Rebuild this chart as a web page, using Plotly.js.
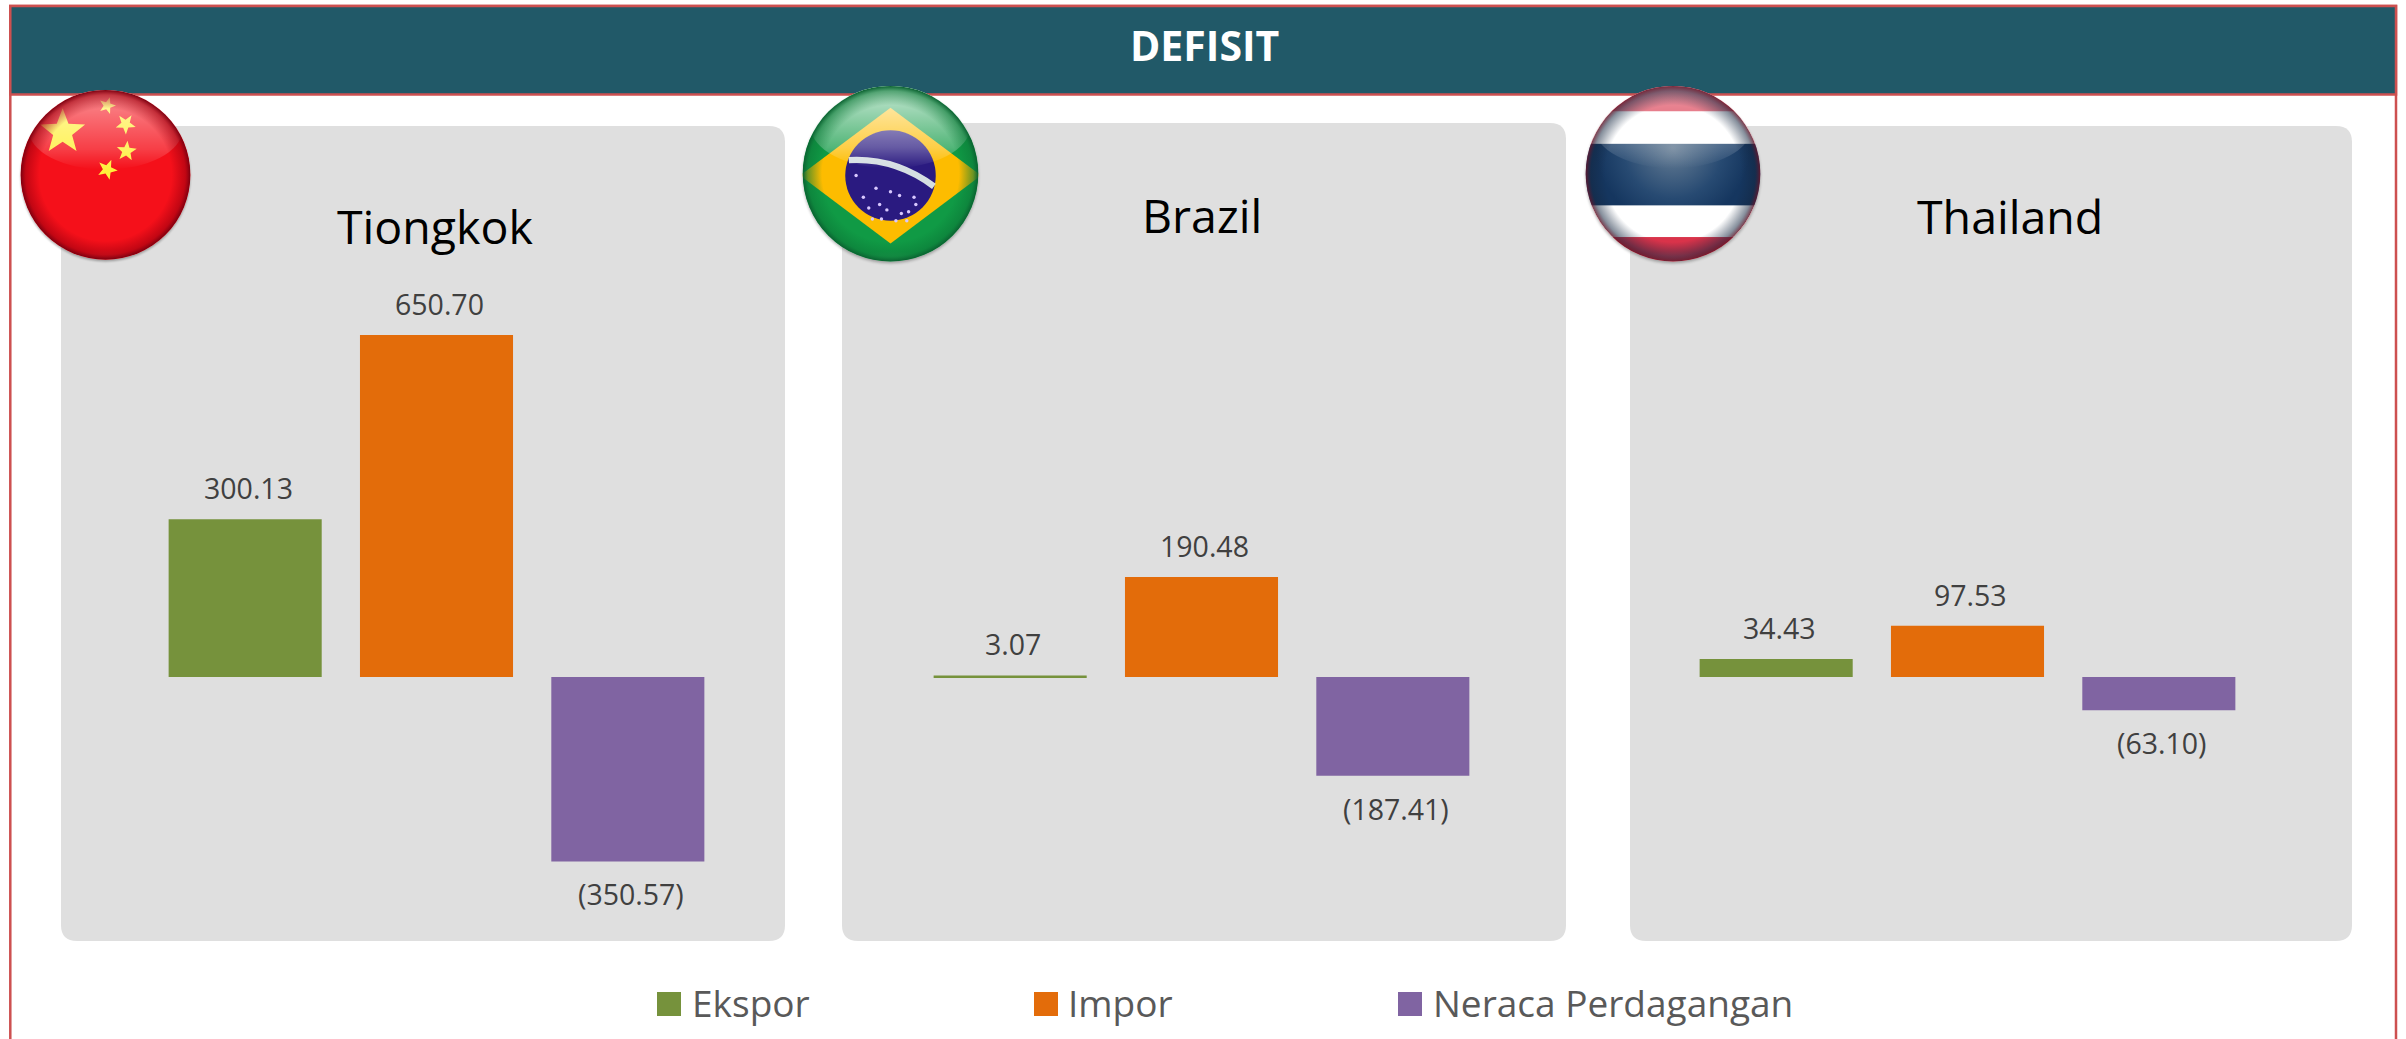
<!DOCTYPE html>
<html><head><meta charset="utf-8">
<script src="https://cdn.plot.ly/plotly-3.0.1.min.js"></script>
<style>html,body{margin:0;padding:0;background:#fff;overflow:hidden}</style>
</head><body><div id="chart" style="width:2406px;height:1039px"></div>
<script>
const pageTitle = 'DEFISIT';
const countries = ['Tiongkok', 'Brazil', 'Thailand'];
const seriesNames = ['Ekspor', 'Impor', 'Neraca Perdagangan'];
const seriesColors = ['#76923c', '#e36c0a', '#8064a2'];
const tiongkokValues = [300.13, 650.70, -350.57];
const brazilValues = [3.07, 190.48, -187.41];
const thailandValues = [34.43, 97.53, -63.10];
const allValues = [tiongkokValues, brazilValues, thailandValues];

const W = 2406, H = 1039;
const px = x => x / W, py = y => 1 - y / H;
const fontFam = '"Open Sans", sans-serif';
const plotBoxes = [[149.5, 723.5], [914.5, 1488.5], [1680.5, 2254.5]];
const cards = [[61, 126, 785, 941], [842, 123, 1566, 941], [1630, 126, 2352, 941]];
const titleCentres = [[435, 226], [1202, 215], [2010, 216]];
const yRange = [-500, 700], yTop = 309, yBottom = 940;
const fmt = v => v < 0 ? '(' + Math.abs(v).toFixed(2) + ')' : v.toFixed(2);

function roundRect(c, r) {
  const [x0, y0, x1, y1] = c;
  return `M${px(x0 + r)},${py(y0)}L${px(x1 - r)},${py(y0)}Q${px(x1)},${py(y0)} ${px(x1)},${py(y0 + r)}` +
    `L${px(x1)},${py(y1 - r)}Q${px(x1)},${py(y1)} ${px(x1 - r)},${py(y1)}L${px(x0 + r)},${py(y1)}` +
    `Q${px(x0)},${py(y1)} ${px(x0)},${py(y1 - r)}L${px(x0)},${py(y0 + r)}Q${px(x0)},${py(y0)} ${px(x0 + r)},${py(y0)}Z`;
}
function rectShape(x0, y0, x1, y1, fill, lineColor, lineW) {
  return {type: 'rect', xref: 'paper', yref: 'paper', x0: px(x0), x1: px(x1), y0: py(y0), y1: py(y1),
    fillcolor: fill, line: {color: lineColor || fill, width: lineW === undefined ? 0 : lineW}, layer: 'below'};
}

const traces = [], shapes = [], annotations = [], layout = {};

// frame and header
shapes.push(rectShape(10.3, 6, 2396, 1060, '#ffffff', '#cd5050', 2.5));
shapes.push(rectShape(10.3, 6, 2396, 94.5, '#215968', '#cd5050', 2.5));
cards.forEach(c => shapes.push({type: 'path', xref: 'paper', yref: 'paper', path: roundRect(c, 16),
  fillcolor: '#dfdfdf', line: {width: 0}, layer: 'below'}));

annotations.push({xref: 'paper', yref: 'paper', x: px(1204), y: py(45), text: '<b>' + pageTitle + '</b>', showarrow: false,
  font: {family: fontFam, size: 41, color: '#ffffff'}, xanchor: 'center', yanchor: 'middle'});

allValues.forEach((vals, i) => {
  const s = i === 0 ? '' : String(i + 1);
  traces.push({type: 'bar', x: seriesNames, y: vals, width: 0.8, xaxis: 'x' + s, yaxis: 'y' + s,
    marker: {color: seriesColors}, showlegend: false, hoverinfo: 'x+y'});
  layout['xaxis' + s] = {domain: [px(plotBoxes[i][0]), px(plotBoxes[i][1])], range: [-0.5, 2.5], type: 'category',
    visible: false, anchor: 'y' + s, fixedrange: true};
  layout['yaxis' + s] = {domain: [py(yBottom), py(yTop)], range: yRange, visible: false, anchor: 'x' + s, fixedrange: true};
  annotations.push({xref: 'paper', yref: 'paper', x: px(titleCentres[i][0]), y: py(titleCentres[i][1]), text: countries[i],
    showarrow: false, font: {family: fontFam, size: 46.5, color: '#000000'}, xanchor: 'center', yanchor: 'middle'});
  vals.forEach((v, k) => annotations.push({xref: 'x' + s, yref: 'y' + s, x: seriesNames[k], y: v, text: fmt(v), showarrow: false,
    xanchor: 'center', yanchor: 'middle', xshift: 3, yshift: v >= 0 ? 31 : -33,
    font: {family: fontFam, size: 28.5, color: '#404040'}}));
});

// legend drawn to size
const legendSwatches = [657, 1034, 1398], legendTexts = [694, 1070, 1435];
seriesNames.forEach((n, k) => {
  shapes.push({...rectShape(legendSwatches[k], 992, legendSwatches[k] + 24, 1016, seriesColors[k]), layer: 'above'});
  annotations.push({xref: 'paper', yref: 'paper', x: px(legendTexts[k]), y: py(1002), text: n, showarrow: false,
    xanchor: 'left', yanchor: 'middle', xshift: -4, font: {family: fontFam, size: 37, color: '#595959'}});
});

// glossy round flags
function star(cx, cy, r, rot) {
  let p = [];
  for (let a = 0; a < 10; a++) {
    const rr = a % 2 ? r * 0.42 : r, t = (rot || 0) - Math.PI / 2 + a * Math.PI / 5;
    p.push((cx + rr * Math.cos(t)).toFixed(1) + ',' + (cy + rr * Math.sin(t)).toFixed(1));
  }
  return `<polygon points="${p.join(' ')}" fill="#fff03c"/>`;
}
function flagSvg(inner, rim, rimMid, gloss, rimAlpha) {
  return `<svg xmlns="http://www.w3.org/2000/svg" width="400" height="400" viewBox="0 0 200 200">
<defs>
<clipPath id="c"><circle cx="100" cy="98" r="97"/></clipPath>
<filter id="b"><feGaussianBlur stdDeviation="1.5"/></filter>
<radialGradient id="r" cx="50%" cy="50%" r="50%"><stop offset="0.78" stop-color="${rimMid}" stop-opacity="0"/><stop offset="0.94" stop-color="${rimMid}" stop-opacity="${rimAlpha * 0.6}"/><stop offset="1" stop-color="${rim}" stop-opacity="${rimAlpha}"/></radialGradient>
<linearGradient id="g" x1="0" y1="0" x2="0" y2="1"><stop offset="0" stop-color="#fff" stop-opacity="${gloss}"/><stop offset="0.75" stop-color="#fff" stop-opacity="${gloss * 0.35}"/><stop offset="1" stop-color="#fff" stop-opacity="0"/></linearGradient>
<radialGradient id="l" cx="50%" cy="100%" r="60%"><stop offset="0" stop-color="#fff" stop-opacity="0.32"/><stop offset="1" stop-color="#fff" stop-opacity="0"/></radialGradient>
<radialGradient id="n" gradientUnits="userSpaceOnUse" cx="100" cy="70" r="85"><stop offset="0" stop-color="#687f96"/><stop offset="0.65" stop-color="#274a72"/><stop offset="1" stop-color="#15365f"/></radialGradient>
</defs>
<circle cx="100" cy="100" r="97" fill="#000" opacity="0.3" filter="url(#b)"/>
<g clip-path="url(#c)">${inner}
<ellipse cx="100" cy="46" rx="88" ry="46" fill="url(#g)"/>
<ellipse cx="100" cy="190" rx="70" ry="34" fill="url(#l)"/>
<circle cx="100" cy="98" r="97" fill="url(#r)"/></g></svg>`;
}
const chinaInner = `<rect width="200" height="200" fill="#f5101a"/>` +
  star(51, 49, 27, 0) + star(102, 19, 10, 0.3) + star(123, 40, 12, 0.6) + star(124, 71, 12, 0.1) + star(102, 92, 12, 0.4);
let dots = '';
[[62,100],[84,114],[70,124],[88,132],[100,118],[110,122],[96,138],[80,148],[112,142],[120,140],[106,150],[128,132],[126,124],[118,150],[76,136],[90,148]]
  .forEach(d => dots += `<circle cx="${d[0]}" cy="${d[1]}" r="1.9" fill="#d8c8ff"/>`);
const brazilInner = `<rect width="200" height="200" fill="#109a45"/>` +
  `<polygon points="100,25 200,100 100,175 0,100" fill="#fdbc00"/>` +
  `<circle cx="100" cy="100" r="50" fill="#2a1a80"/>` +
  `<path d="M54,83 Q105,80 148,112" stroke="#d5dee2" stroke-width="7" fill="none"/>` + dots;
const thaiInner = `<rect width="200" height="200" fill="#d9334a"/>` +
  `<rect y="29" width="200" height="139" fill="#ffffff"/>` +
  `<rect y="65" width="200" height="68" fill="url(#n)"/>`;
const flags = [[chinaInner, '#7a0010', '#a0000f', 0.55, 1, 18, 89, 175, 175],
               [brazilInner, '#0a6030', '#0c7a38', 0.8, 1, 800, 85, 181, 181],
               [thaiInner, '#6a1528', '#14263f', 0.5, 0.85, 1583, 85, 180, 181]];
const images = flags.map(f => ({
  source: 'data:image/svg+xml;base64,' + btoa(flagSvg(f[0], f[1], f[2], f[3], f[4])),
  xref: 'paper', yref: 'paper', x: px(f[5]), y: py(f[6]), sizex: f[7] / W, sizey: f[8] / H,
  xanchor: 'left', yanchor: 'top', sizing: 'stretch', layer: 'above'}));

Object.assign(layout, {width: W, height: H, margin: {l: 0, r: 0, t: 0, b: 0}, paper_bgcolor: '#ffffff', plot_bgcolor: 'rgba(0,0,0,0)',
  showlegend: false, shapes, annotations, images, bargap: 0.2});
Plotly.newPlot('chart', traces, layout, {displayModeBar: false, staticPlot: false});
</script></body></html>
